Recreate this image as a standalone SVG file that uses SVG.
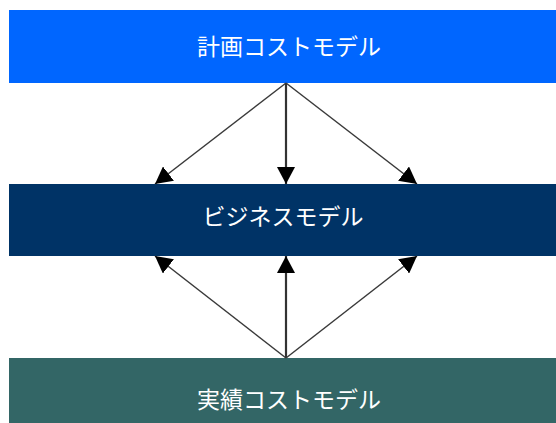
<svg xmlns="http://www.w3.org/2000/svg" width="556" height="423" viewBox="0 0 556 423">
<defs>
<style>
.lbl{font-family:"Noto Sans CJK JP","Noto Sans",sans-serif;font-size:23px;fill:#ffffff;text-anchor:middle;dominant-baseline:central}
.ln{stroke:#3a3a3a;stroke-width:1.5;marker-end:url(#ah)}
.lnc{stroke:#333333;stroke-width:2.2;marker-end:url(#ah)}
</style>
<marker id="ah" viewBox="0 0 17 18" refX="17" refY="9" markerWidth="17" markerHeight="18" markerUnits="userSpaceOnUse" orient="auto">
<path d="M0,0 L17,9 L0,18 z" fill="#000"/>
</marker>
</defs>
<g id="plan">
<rect x="9" y="10" width="547" height="73" fill="#0066ff"/>
<text class="lbl" x="289" y="45">計画コストモデル</text>
</g>
<g id="business">
<rect x="9" y="184" width="547" height="72" fill="#003366"/>
<text class="lbl" x="283" y="215">ビジネスモデル</text>
</g>
<g id="actual">
<rect x="9" y="358" width="547" height="65" fill="#336666"/>
<text class="lbl" x="289" y="398">実績コストモデル</text>
</g>
<g id="connectors">
<line class="ln" x1="286" y1="83" x2="155" y2="184"/>
<line class="lnc" x1="286" y1="83" x2="286" y2="184"/>
<line class="ln" x1="286" y1="83" x2="417" y2="184"/>
<line class="ln" x1="286" y1="358" x2="155" y2="256"/>
<line class="lnc" x1="286" y1="358" x2="286" y2="256"/>
<line class="ln" x1="286" y1="358" x2="417" y2="256"/>
</g>
</svg>
